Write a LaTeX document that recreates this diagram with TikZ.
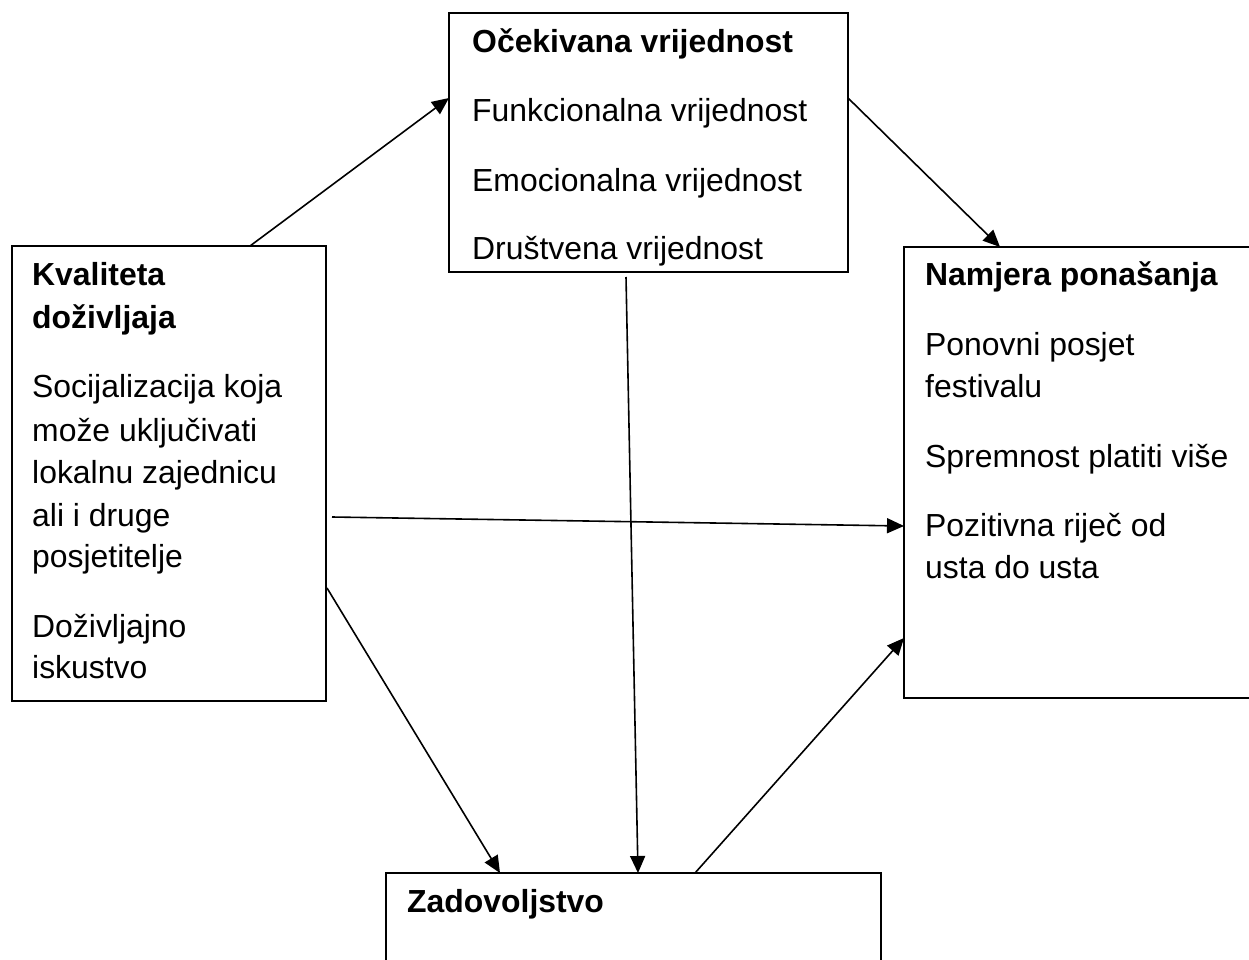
\documentclass[tikz,border=0pt]{standalone}
\usepackage{fontspec}
\setmainfont{Liberation Sans}
\usetikzlibrary{arrows.meta}
\begin{document}
\begin{tikzpicture}[x=1pt,y=-1pt,
  box/.style={draw=black,line width=2pt,inner sep=0pt,outer sep=0pt,rectangle},
  txt/.style={anchor=base west,inner sep=0pt,font=\fontsize{31.9}{38}\selectfont},
  head/.style={txt,font=\fontsize{31.9}{38}\selectfont\bfseries},
  conn/.style={line width=1.6pt,-{Triangle[length=17pt,width=15pt]}}]
\useasboundingbox (0,0) rectangle (1249,960);
% boxes
\node[box,minimum width=399pt,minimum height=259pt] (top) at (648.5,142.5) {};
\node[box,minimum width=314pt,minimum height=455pt] (kval) at (169,473.5) {};
\node[box,minimum width=356pt,minimum height=451pt] (nam) at (1082,472.5) {};
\node[box,minimum width=495pt,minimum height=102pt] (zad) at (633.5,924) {};
% top box text
\node[head] (t1) at (472,53) {Očekivana vrijednost};
\node[txt] (t2) at (472,122) {Funkcionalna vrijednost};
\node[txt] (t3) at (472,191) {Emocionalna vrijednost};
\begin{scope}
\clip (450,14) rectangle (847,271);
\node[txt] (t4) at (472,259) {Društvena vrijednost};
\end{scope}
% left box text
\node[head] (k1) at (32,285) {Kvaliteta};
\node[head] (k2) at (32,328) {doživljaja};
\node[txt] (k3) at (32,397) {Socijalizacija koja};
\node[txt] (k4) at (32,441) {može uključivati};
\node[txt] (k5) at (32,483) {lokalnu zajednicu};
\node[txt] (k6) at (32,526) {ali i druge};
\node[txt] (k7) at (32,567) {posjetitelje};
\node[txt] (k8) at (32,637) {Doživljajno};
\node[txt] (k9) at (32,678) {iskustvo};
% right box text
\node[head] (n1) at (925,285) {Namjera ponašanja};
\node[txt] (n2) at (925,355) {Ponovni posjet};
\node[txt] (n3) at (925,397) {festivalu};
\node[txt] (n4) at (925,467) {Spremnost platiti više};
\node[txt] (n5) at (925,536) {Pozitivna riječ od};
\node[txt] (n6) at (925,578) {usta do usta};
% bottom box text
\node[head] (z1) at (407,912) {Zadovoljstvo};
% connectors
\draw[conn] ([xshift=238pt]kval.north west) -- ([yshift=44.5pt]top.west);
\draw[conn] ([yshift=44.5pt]top.east) -- ([xshift=96pt]nam.north west);
\draw[conn] ([xshift=-22.5pt,yshift=-5pt]top.south) -- ([xshift=4.5pt]zad.north);
\draw[conn] ([xshift=6pt,yshift=-43.5pt]kval.east) -- ([yshift=-53.5pt]nam.west);
\draw[conn] ([xshift=1pt,yshift=-114.5pt]kval.east) -- ([xshift=114pt]zad.north west);
\draw[conn] ([xshift=309pt]zad.north west) -- ([yshift=-165.5pt]nam.west);
\end{tikzpicture}
\end{document}
